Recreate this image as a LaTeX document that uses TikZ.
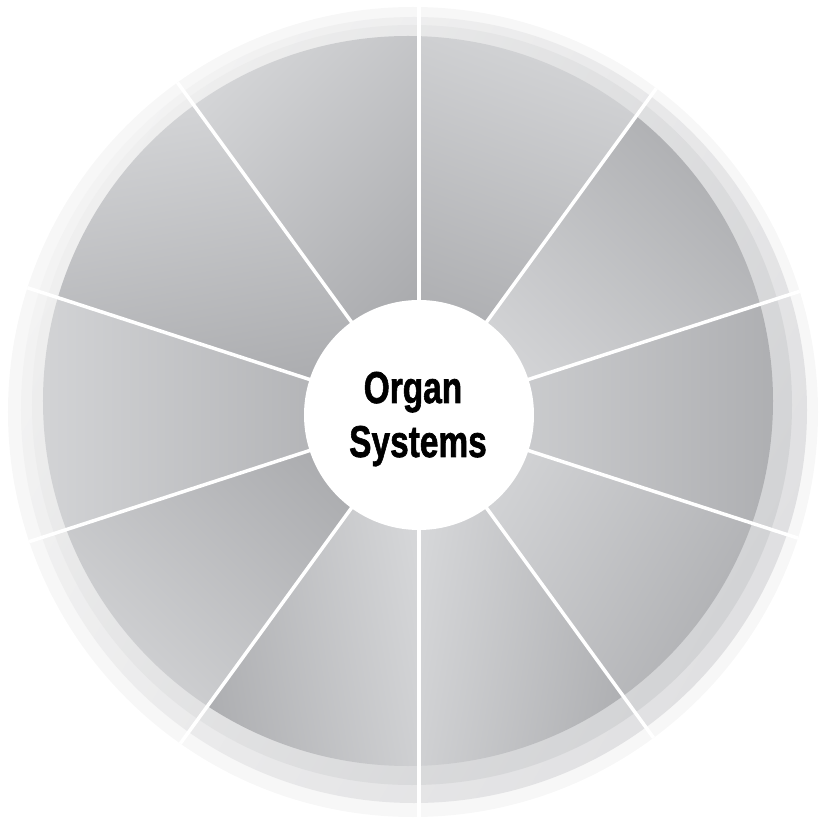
\documentclass[tikz,border=0pt]{standalone}
\usepackage{fontspec}
\setmainfont{Liberation Sans}
\newfontfamily\hubfont{Liberation Sans}[FakeBold=1.6]
\usepackage{graphicx}
\definecolor{faint}{HTML}{F7F7F7}
\definecolor{ringLa}{HTML}{F3F3F3}
\definecolor{ringLb}{HTML}{E0E0E2}
\definecolor{ringMa}{HTML}{EFEFEF}
\definecolor{ringMb}{HTML}{D2D3D5}
\definecolor{seglight}{HTML}{D6D7D9}
\definecolor{segdark}{HTML}{A8A9AC}
\begin{document}
\begin{tikzpicture}[x=1pt,y=1pt,
  spoke/.style={draw=white,line width=3.5pt},
  seg/.style={top color=seglight,bottom color=segdark},
  lbl/.style={anchor=base,inner sep=0pt,font=\hubfont\bfseries\fontsize{44.6}{54}\selectfont}]
\useasboundingbox (-419,-406) rectangle (401,415);
% outer rings
\fill[faint] (-6,3) circle[radius=405];
\shade[top color=ringLa,bottom color=ringLb,shading angle=60] (-5,5) circle[radius=393];
\shade[top color=ringMa,bottom color=ringMb,shading angle=60] (-7,10) circle[radius=380];
% sectors
\begin{scope}
  \clip (-11,14) circle[radius=365];
  \foreach \a/\d in {18/225, 54/70, 90/135, 126/100, 162/180, 198/225, 234/10, 270/170, 306/150, 342/180} {
    \pgfmathsetmacro\shang{\d-90}
    \shade[seg, shading angle=\shang] (0,0) -- (\a:410) -- (\a+18:410) -- (\a+36:410) -- cycle;
  }
\end{scope}
% spokes
\begin{scope}
  \clip (-6,3) circle[radius=405];
  \foreach \a in {18,54,...,342} \draw[spoke] (0,0) -- (\a:420);
\end{scope}
% hub
\node[circle,fill=white,minimum size=230pt,inner sep=0pt] (hub) at (0,0) {};
\node[lbl] (organ) at (-6,12) {\scalebox{0.75}[1]{Organ}};
\node[lbl] (systems) at (-1,-42) {\scalebox{0.75}[1]{Systems}};
\end{tikzpicture}
\end{document}
